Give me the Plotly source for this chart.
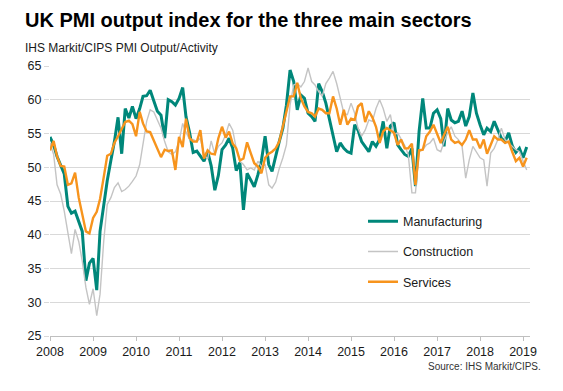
import pandas as pd
import plotly.graph_objects as go

# Monthly values, Jan 2008 - Feb 2019
manufacturing = [
    54.5, 53.3, 51.6, 50.3, 49.0, 44.2, 43.2, 43.5, 41.8, 40.5, 33.2, 35.8,
    36.5, 31.8, 40.5, 44.5, 48.0, 51.0, 53.8, 57.4, 52.0, 58.7, 57.3, 59.0,
    57.2, 58.7, 60.5, 60.6, 61.4, 59.8, 58.3, 57.7, 54.3, 60.0, 59.7, 59.2,
    60.2, 61.8, 57.5, 55.1, 52.2, 52.4, 51.6, 50.9, 52.3, 50.2, 46.6, 48.8,
    52.6, 53.3, 54.3, 52.8, 49.5, 50.7, 43.7, 49.1, 48.1, 47.1, 48.9, 51.0,
    54.6, 50.4, 49.4, 51.9, 53.8, 55.8, 59.2, 64.4, 62.7, 58.5, 60.7, 60.2,
    58.0, 57.5, 56.8, 62.4, 61.2, 59.5, 57.3, 54.8, 52.3, 53.6, 52.8, 52.3,
    52.1, 56.3, 55.5, 53.8, 53.0, 52.3, 53.8, 53.1, 54.1, 56.8, 52.8, 56.1,
    56.6, 53.3, 52.6, 51.9, 51.6, 52.8, 47.2, 55.3, 60.2, 55.8, 55.8, 58.0,
    58.5, 57.2, 53.1, 58.7, 57.0, 56.6, 56.8, 58.3, 56.1, 57.5, 61.0, 58.0,
    56.3, 54.8, 55.8, 55.3, 56.8, 55.6, 54.3, 53.8, 55.1, 53.2, 52.2, 52.8,
    51.4, 53.0,
]
construction = [
    53.6, 51.9, 47.4, 46.0, 43.5, 40.0, 37.2, 40.8, 39.0, 36.1, 32.2, 29.7,
    32.0, 28.0, 31.2, 39.0, 44.5, 45.5, 47.0, 47.7, 46.4, 46.7, 47.2, 47.9,
    48.7, 50.4, 53.3, 56.8, 58.5, 58.2, 57.0, 55.8, 53.8, 52.3, 51.9, 52.3,
    53.8, 56.5, 55.2, 54.1, 54.1, 53.8, 54.3, 51.9, 51.2, 53.9, 51.9, 53.1,
    53.6, 54.8, 56.5, 55.5, 52.8, 50.9, 50.4, 49.6, 49.9, 49.6, 50.9, 50.1,
    50.4, 47.4, 46.9, 47.8, 49.8, 51.4, 53.3, 59.2, 62.2, 62.4, 61.9, 62.7,
    64.7, 62.7, 62.2, 61.2, 60.5, 62.4, 63.2, 64.2, 62.4, 60.2, 58.0, 57.8,
    59.5, 58.0, 55.8, 54.6, 55.5, 57.0, 56.8, 58.7, 60.0, 58.7, 56.8, 57.8,
    54.8, 55.1, 54.1, 53.2, 51.9, 46.2, 46.2, 52.3, 52.6, 53.3, 53.6, 54.3,
    52.6, 52.3, 53.8, 55.1, 56.0, 54.6, 54.1, 53.1, 48.4, 51.1, 53.1, 52.3,
    51.4, 51.1, 47.2, 52.1, 52.8, 54.1, 55.8, 54.1, 53.6, 53.1, 52.6, 52.3,
    50.9, 49.6,
]
services = [
    52.5, 53.9, 51.6, 50.2, 50.1, 47.4, 47.6, 49.2, 45.5, 43.0, 40.5, 40.2,
    42.5, 43.4, 45.3, 48.5, 51.7, 52.0, 53.6, 54.6, 55.8, 56.7, 56.9, 56.4,
    54.6, 58.2, 56.5, 55.3, 55.2, 54.0, 52.9, 51.5, 52.6, 52.4, 52.5, 49.6,
    54.5, 53.0, 57.2, 54.3, 53.8, 53.8, 55.5, 51.3, 52.5, 52.0, 51.9, 54.3,
    56.0, 54.4, 55.3, 53.5, 52.8, 51.0, 51.3, 53.7, 52.1, 50.6, 50.1, 49.1,
    51.4, 52.0, 52.3, 52.8, 53.8, 56.1, 57.9, 60.5, 60.5, 62.5, 60.2, 59.0,
    58.2, 58.0, 57.5, 58.7, 58.5, 58.0, 58.0, 60.5, 58.7, 56.3, 58.5, 56.3,
    57.2, 57.0, 59.0, 59.5, 56.7, 58.3, 57.4, 56.0, 53.6, 55.3, 55.8, 55.5,
    55.1, 53.3, 54.1, 52.8, 52.8, 53.5, 47.4, 52.5, 52.6, 54.6, 55.3, 56.3,
    54.8, 53.6, 54.8, 56.0, 54.1, 53.6, 53.8, 53.3, 54.1, 55.5, 54.1, 54.1,
    52.8, 54.1, 52.0, 53.3, 54.6, 54.1, 54.1, 53.6, 53.8, 52.3, 50.9, 51.4,
    50.1, 51.4,
]
months = pd.date_range("2008-01-01", periods=len(manufacturing), freq="MS")
year_ticks = pd.date_range("2008-01-01", "2019-01-01", freq="YS")
year_labels = [str(d.year) for d in year_ticks]
y_ticks = [25, 30, 35, 40, 45, 50, 55, 60, 65]

FONT = "Liberation Sans, Arial, sans-serif"

# The page body adds an 8px offset, so the figure is 8px smaller and the
# top/left margins are reduced by 8px to keep the plot where the reference has it.
PW, PH = 480, 270  # plot area size
ML, MT = 42, 58

fig = go.Figure()
fig.add_trace(go.Scatter(x=months, y=manufacturing, name="Manufacturing",
                         mode="lines", legendgroup="m",
                         line=dict(color="#00877A", width=3)))
fig.add_trace(go.Scatter(x=months, y=construction, name="Construction",
                         mode="lines", legendgroup="c",
                         line=dict(color="#C4C4C4", width=1.4)))
fig.add_trace(go.Scatter(x=months, y=services, name="Services",
                         mode="lines", legendgroup="s",
                         line=dict(color="#F7941D", width=2.4)))


def px_x(x):
    return (x - 50) / PW


def px_y(y):
    return (336 - y) / PH


fig.update_layout(
    width=555, height=383,
    margin=dict(l=ML, r=555 - ML - PW, t=MT, b=383 - MT - PH),
    paper_bgcolor="white", plot_bgcolor="white",
    font=dict(family=FONT, size=12.5, color="#1a1a1a"),
    showlegend=True,
    legend=dict(x=px_x(363), y=px_y(212) + 0.02, xanchor="left", yanchor="top",
                bgcolor="rgba(0,0,0,0)", borderwidth=0,
                tracegroupgap=11, font=dict(size=12.5, color="#1a1a1a")),
    xaxis=dict(range=["2008-01-01", "2019-03-01"], tickvals=year_ticks,
               ticktext=year_labels, showgrid=False, showline=True,
               linecolor="#BFBFBF", linewidth=1, ticks="outside", ticklen=4,
               tickcolor="#BFBFBF", zeroline=False,
               tickfont=dict(size=12.5, color="#1a1a1a")),
    yaxis=dict(range=[25, 65], tickvals=y_ticks, showgrid=True,
               gridcolor="#D9D9D9", gridwidth=1, zeroline=False,
               showline=False, ticks="outside", ticklen=5,
               tickcolor="#D9D9D9", tickfont=dict(size=12.5, color="#1a1a1a")),
    annotations=[
        dict(text="<b>UK PMI output index for the three main sectors</b>",
             xref="paper", yref="paper", x=px_x(23), y=px_y(20),
             xanchor="left", yanchor="middle",
             showarrow=False, font=dict(size=20, color="#000000")),
        dict(text="IHS Markit/CIPS PMI Output/Activity",
             xref="paper", yref="paper", x=px_x(23), y=px_y(48),
             xanchor="left", yanchor="middle",
             showarrow=False, font=dict(size=12, color="#1a1a1a")),
        dict(text="Source: IHS Markit/CIPS.",
             xref="paper", yref="paper", x=px_x(543), y=px_y(367),
             xanchor="right", yanchor="middle",
             showarrow=False, font=dict(size=10, color="#333333")),
    ],
)

fig.write_html("out.html")
